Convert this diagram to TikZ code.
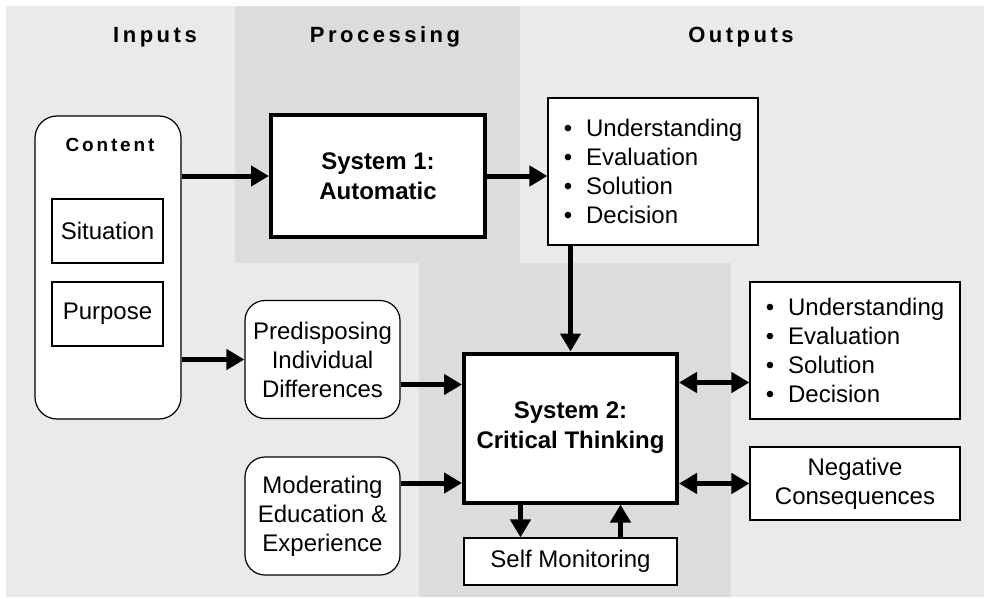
\documentclass[tikz,border=0pt]{standalone}
\usepackage{fontspec}
\setmainfont{Liberation Sans}
\usepackage{tikz}
\usetikzlibrary{arrows.meta,positioning,calc}
\definecolor{panelgray}{HTML}{EAEAEA}
\definecolor{colgray}{HTML}{DCDCDC}
\newcommand{\headfont}{\fontsize{22}{26}\selectfont\bfseries\addfontfeatures{LetterSpace=16}}
\newcommand{\itemdot}{\textbullet\hspace{14pt}}

\begin{document}
\begin{tikzpicture}[x=1pt, y=-1pt, font=\fontsize{24}{29}\selectfont,
   box/.style={draw, line width=1.2pt, fill=white, inner sep=0pt, align=center},
   softbox/.style={box, rounded corners=20pt},
   sysbox/.style={box, line width=4pt, font=\fontsize{24}{30}\selectfont\bfseries},
   flow/.style={line width=5pt, -{Triangle[length=18pt,width=20pt]}},
   twoway/.style={line width=5pt, {Triangle[length=18pt,width=20pt]}-{Triangle[length=18pt,width=20pt]}}]
   \useasboundingbox (0,0) rectangle (984,597);
   % panels
   \fill[panelgray] (6,6) rectangle (984,597);
   \fill[colgray] (235,6) rectangle (520,263);
   \fill[colgray] (419,263) rectangle (731,597);
   % column heads
   \node[font=\headfont] (hin) at (155,37) {Inputs};
   \node[font=\headfont] (hproc) at (385,37) {Processing};
   \node[font=\headfont] (hout) at (741,37) {Outputs};
   % inputs
   \node[softbox, rounded corners=22pt, minimum width=146pt, minimum height=303pt] (content) at (108,267.5) {};
   \node[font=\fontsize{19}{22}\selectfont\bfseries\addfontfeatures{LetterSpace=15}] (contenttitle) at (110,145) {Content};
   \begin{scope}[every node/.style={box, minimum width=111pt, minimum height=64pt}]
    \node (sit) at (107.5,231) {Situation};
    \node (purp) at (107.5,314) {Purpose};
   \end{scope}
   \begin{scope}[every node/.style={softbox, minimum width=155pt, minimum height=118pt}]
    \node (pred) at (322.5,359.5) {Predisposing\\Individual\\Differences};
    \node (mod) at (322.5,516) {Moderating\\Education \&\\Experience};
   \end{scope}
   % processing
   \node[sysbox, minimum width=214pt, minimum height=122pt] (sys1) at (378,176) {System 1:\\Automatic};
   \node[sysbox, minimum width=213pt, minimum height=149pt] (sys2) at (570.5,428) {System 2:\\Critical Thinking};
   \node[box, minimum width=213pt, minimum height=47pt] (selfmon) at (570.5,561.5) {Self Monitoring};
   % outputs
   \node[box, align=left, minimum width=210pt, minimum height=147pt] (out1) at (653,171.5)
     {\itemdot Understanding\\\itemdot Evaluation\\\itemdot Solution\\\itemdot Decision};
   \node[box, align=left, minimum width=210pt, minimum height=137pt] (out2) at (855,350.5)
     {\itemdot Understanding\\\itemdot Evaluation\\\itemdot Solution\\\itemdot Decision};
   \node[box, minimum width=210pt, minimum height=73pt] (neg) at (855,483.5) {Negative\\Consequences};
   % connectors
   \draw[flow] (content.east |- sys1.west) -- (sys1.west);
   \draw[flow] (sys1.east) -- (sys1.east -| out1.west);
   \draw[flow] (out1.south -| sys2.north) -- (sys2.north);
   \draw[flow] (content.east |- pred.west) -- (pred.west);
   \draw[flow] ([yshift=-25pt]pred.east) -- ([yshift=-25pt]pred.east -| sys2.west);
   \draw[flow] ([yshift=33pt]mod.east) -- ([yshift=33pt]mod.east -| sys2.west);
   \draw[twoway] ([yshift=-32pt]out2.west -| sys2.east) -- ([yshift=-32pt]out2.west);
   \draw[twoway] (sys2.east |- neg.west) -- (neg.west);
   \draw[flow] ([xshift=-50pt]sys2.south) -- ([xshift=-50pt]sys2.south |- selfmon.north);
   \draw[flow] ([xshift=50pt]selfmon.north) -- ([xshift=50pt]selfmon.north |- sys2.south);
\end{tikzpicture}
\end{document}
